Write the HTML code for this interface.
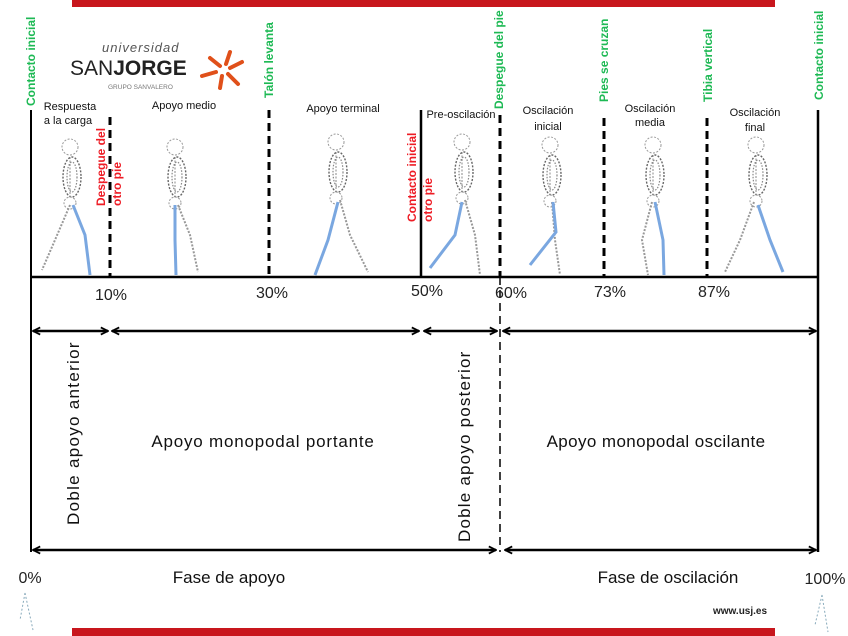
<!DOCTYPE html>
<html><head><meta charset="utf-8"><style>
html,body{margin:0;padding:0;background:#fff}
svg{display:block}
text{font-family:"Liberation Sans",sans-serif}
</style></head><body>
<svg width="848" height="636" viewBox="0 0 848 636" xmlns="http://www.w3.org/2000/svg">
<defs>
<marker id="ah" viewBox="0 0 10 10" refX="9" refY="5" markerWidth="9" markerHeight="9" orient="auto-start-reverse" markerUnits="userSpaceOnUse">
<path d="M1,1 L9,5 L1,9" fill="none" stroke="#000" stroke-width="2"/>
</marker>
<g id="fig">
<circle cx="0" cy="0" r="8" fill="none" stroke="#999" stroke-width="1" stroke-dasharray="2,1.5"/>
<ellipse cx="2" cy="30" rx="9" ry="20" fill="none" stroke="#666" stroke-width="1.4" stroke-dasharray="2,1.5"/>
<ellipse cx="2" cy="30" rx="5" ry="15" fill="none" stroke="#888" stroke-width="1.2" stroke-dasharray="1.5,1.5"/>
<line x1="0" y1="10" x2="0" y2="52" stroke="#888" stroke-width="1" stroke-dasharray="2,1.5"/>
<circle cx="0" cy="56" r="6" fill="none" stroke="#999" stroke-width="1" stroke-dasharray="2,1.5"/>
</g>
</defs>
<rect x="72" y="0" width="703" height="7" fill="#c8161d"/>
<rect x="72" y="628" width="703" height="8" fill="#c8161d"/>

<text x="102" y="52" font-size="13" font-style="italic" fill="#555" letter-spacing="1">universidad</text>
<text x="70" y="75" font-size="21" fill="#222">SAN<tspan font-weight="bold">JORGE</tspan></text>
<text x="108" y="89" font-size="6.5" fill="#777">GRUPO SANVALERO</text>
<g stroke="#e0501a" stroke-width="4" stroke-linecap="round">
<line x1="210" y1="58" x2="220" y2="66"/><line x1="230" y1="52" x2="226" y2="64"/>
<line x1="242" y1="62" x2="230" y2="68"/><line x1="238" y1="84" x2="228" y2="74"/>
<line x1="220" y1="88" x2="222" y2="76"/><line x1="202" y1="76" x2="216" y2="72"/>
</g>

<line x1="30" y1="277" x2="819" y2="277" stroke="#000" stroke-width="2.5"/>
<line x1="31" y1="110" x2="31" y2="552" stroke="#000" stroke-width="2"/>
<line x1="818" y1="110" x2="818" y2="552" stroke="#000" stroke-width="2.5"/>
<line x1="421" y1="110" x2="421" y2="277" stroke="#000" stroke-width="2.5"/>
<g stroke="#000" stroke-width="3" stroke-dasharray="8,5">
<line x1="110" y1="117" x2="110" y2="277"/>
<line x1="269" y1="110" x2="269" y2="277"/>
<line x1="500" y1="115" x2="500" y2="277"/>
<line x1="604" y1="118" x2="604" y2="277"/>
<line x1="707" y1="118" x2="707" y2="277"/>
</g>
<line x1="500" y1="277" x2="500" y2="552" stroke="#000" stroke-width="1.5" stroke-dasharray="8,5"/>

<g stroke="#000" stroke-width="2.5" marker-start="url(#ah)" marker-end="url(#ah)">
<line x1="33" y1="331" x2="108" y2="331"/>
<line x1="112" y1="331" x2="419" y2="331"/>
<line x1="424" y1="331" x2="497" y2="331"/>
<line x1="503" y1="331" x2="816" y2="331"/>
<line x1="33" y1="550" x2="496" y2="550"/>
<line x1="505" y1="550" x2="816" y2="550"/>
</g>

<g font-size="16" fill="#222" text-anchor="middle">
<text x="111" y="300">10%</text><text x="272" y="298">30%</text><text x="427" y="296">50%</text>
<text x="511" y="298">60%</text><text x="610" y="297">73%</text><text x="714" y="297">87%</text>
<text x="30" y="583">0%</text><text x="825" y="584">100%</text>
</g>

<g font-size="11" fill="#111" text-anchor="middle">
<text x="70" y="110">Respuesta</text><text x="68" y="124">a la carga</text>
<text x="184" y="109">Apoyo medio</text>
<text x="343" y="112">Apoyo terminal</text>
<text x="461" y="118">Pre-oscilación</text>
<text x="548" y="114">Oscilación</text><text x="548" y="130">inicial</text>
<text x="650" y="112">Oscilación</text><text x="650" y="126">media</text>
<text x="755" y="116">Oscilación</text><text x="755" y="131">final</text>
</g>

<g font-size="12" font-weight="bold" fill="#1db954">
<text transform="translate(35,106) rotate(-90)">Contacto inicial</text>
<text transform="translate(273,98) rotate(-90)">Talón levanta</text>
<text transform="translate(503,109) rotate(-90)">Despegue del pie</text>
<text transform="translate(608,102) rotate(-90)">Pies se cruzan</text>
<text transform="translate(712,102) rotate(-90)">Tibia vertical</text>
<text transform="translate(823,100) rotate(-90)">Contacto inicial</text>
</g>
<g font-size="12" font-weight="bold" fill="#ee1c25">
<text transform="translate(105,206) rotate(-90)">Despegue del</text>
<text transform="translate(121,206) rotate(-90)">otro pie</text>
<text transform="translate(416,222) rotate(-90)">Contacto inicial</text>
<text transform="translate(432,222) rotate(-90)">otro pie</text>
</g>

<g font-size="17" fill="#111">
<text transform="translate(79,525) rotate(-90)" letter-spacing="1.3">Doble apoyo anterior</text>
<text transform="translate(470,542) rotate(-90)" letter-spacing="1.2">Doble apoyo posterior</text>
<text x="263" y="447" text-anchor="middle" letter-spacing="0.8">Apoyo monopodal portante</text>
<text x="656" y="447" text-anchor="middle" letter-spacing="0.4">Apoyo monopodal oscilante</text>
<text x="229" y="583" text-anchor="middle">Fase de apoyo</text>
<text x="668" y="583" text-anchor="middle">Fase de oscilación</text>
</g>
<text x="740" y="614" font-size="10" font-weight="bold" fill="#222" text-anchor="middle">www.usj.es</text>

<g fill="none" stroke-width="2">
<use href="#fig" x="70" y="147"/>
<path d="M70,205 L55,240 L42,270" stroke="#999" stroke-dasharray="2,1.5"/>
<path d="M73,205 L85,235 L90,275" stroke="#7aa7e0" stroke-width="3"/>
<use href="#fig" x="175" y="147"/>
<path d="M178,205 L190,235 L198,272" stroke="#999" stroke-dasharray="2,1.5"/>
<path d="M175,205 L175,240 L176,275" stroke="#7aa7e0" stroke-width="3"/>
<use href="#fig" x="336" y="142"/>
<path d="M340,200 L350,235 L368,272" stroke="#999" stroke-dasharray="2,1.5"/>
<path d="M338,202 L328,240 L315,275" stroke="#7aa7e0" stroke-width="3"/>
<use href="#fig" x="462" y="142"/>
<path d="M465,200 L475,235 L480,275" stroke="#999" stroke-dasharray="2,1.5"/>
<path d="M462,202 L455,235 L430,268" stroke="#7aa7e0" stroke-width="3"/>
<use href="#fig" x="550" y="145"/>
<path d="M552,202 L555,240 L560,275" stroke="#999" stroke-dasharray="2,1.5"/>
<path d="M553,202 L556,232 L530,265" stroke="#7aa7e0" stroke-width="3"/>
<use href="#fig" x="653" y="145"/>
<path d="M652,202 L642,240 L648,275" stroke="#999" stroke-dasharray="2,1.5"/>
<path d="M655,202 L663,240 L664,275" stroke="#7aa7e0" stroke-width="3"/>
<use href="#fig" x="756" y="145"/>
<path d="M754,202 L740,240 L725,272" stroke="#999" stroke-dasharray="2,1.5"/>
<path d="M758,205 L770,240 L783,272" stroke="#7aa7e0" stroke-width="3"/>
</g>
<g fill="none" stroke="#8ab" stroke-width="1" stroke-dasharray="2,2">
<path d="M25,593 L20,620 M25,593 L33,630"/>
<path d="M822,595 L815,625 M822,595 L828,632"/>
</g>
</svg>
</body></html>
